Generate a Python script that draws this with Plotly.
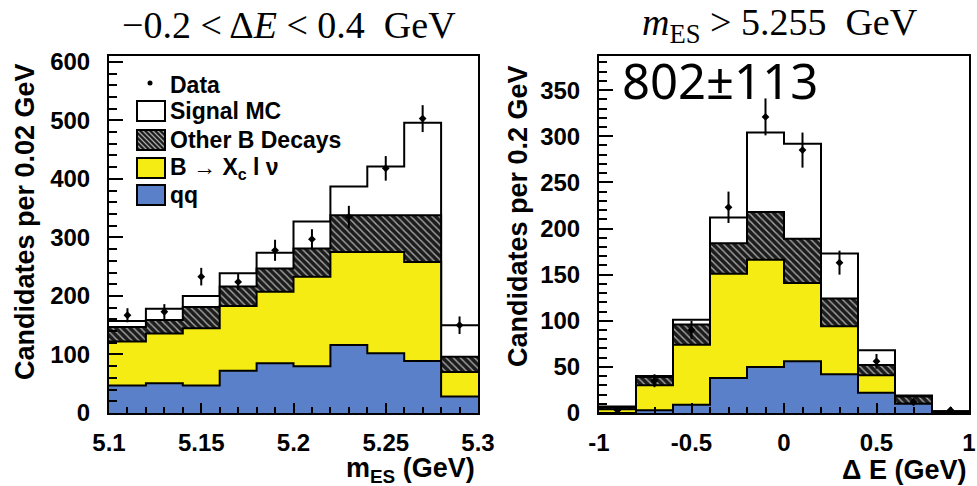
import plotly.graph_objects as go
import numpy as np

W, H = 977, 486

# ---------------- data ----------------
# left panel: m_ES bins (GeV), cumulative stacked tops
mes_edges = [5.10, 5.12, 5.14, 5.16, 5.18, 5.20, 5.22, 5.24, 5.26, 5.28, 5.30]
mes_centers = [5.11, 5.13, 5.15, 5.17, 5.19, 5.21, 5.23, 5.25, 5.27, 5.29]
mes_qq = [47, 51, 47, 72, 85, 80, 116, 102, 89, 28]
mes_xclnu = [122, 136, 145, 183, 207, 233, 275, 275, 258, 70]
mes_otherb = [147, 159, 181, 216, 247, 281, 338, 338, 338, 96]
mes_signal = [157, 178, 200, 239, 274, 327, 387, 421, 496, 150]
mes_data = [167, 173, 233, 224, 278, 297, 335, 418, 503, 150]
mes_err = [12, 13, 15, 14, 18, 17, 19, 21, 23, 15]

# right panel: Delta E bins (GeV), cumulative stacked tops
de_edges = [-1.0, -0.8, -0.6, -0.4, -0.2, 0.0, 0.2, 0.4, 0.6, 0.8, 1.0]
de_centers = [-0.9, -0.7, -0.5, -0.3, -0.1, 0.1, 0.3, 0.5, 0.7, 0.9]
de_qq = [0, 3, 9, 38, 50, 56, 42, 22, 10, 1]
de_xclnu = [4, 30, 74, 151, 166, 141, 94, 41, 10, 1]
de_otherb = [6, 39, 96, 184, 218, 189, 124, 52, 18, 2]
de_signal = [7, 40, 101, 212, 304, 292, 173, 68, 19, 2]
de_data = [3, 35, 90, 223, 321, 285, 163, 56, 12, 3]
de_err = [3, 7, 10, 17, 20, 19, 13, 8, 4, 2]

legend_labels = ["Data", "Signal MC", "Other B Decays", "B → X<sub>c</sub> l ν", "qq"]

WHITE = "#ffffff"
HATCH_BG = "#1c1c1c"
YELLOW = "#f4ec13"
BLUE = "#5a80c9"

fig = go.Figure()


def step_xy(edges, vals):
    return list(edges), list(vals) + [vals[-1]]


def add_panel(edges, centers, signal, otherb, xclnu, qq, data, err, xa, ya):
    layers = [
        (signal, WHITE, None),
        (otherb, HATCH_BG, dict(shape="\\", bgcolor=HATCH_BG, fgcolor="#a8a8a8",
                                size=5, solidity=0.28)),
        (xclnu, YELLOW, None),
        (qq, BLUE, None),
    ]
    for vals, col, pat in layers:
        x, y = step_xy(edges, vals)
        kw = dict(x=x, y=y, mode="lines", line=dict(shape="hv", color="black", width=2),
                  fill="tozeroy", fillcolor=col, xaxis=xa, yaxis=ya,
                  showlegend=False, hoverinfo="skip")
        if pat is not None:
            kw["fillpattern"] = pat
        fig.add_trace(go.Scatter(**kw))
    fig.add_trace(go.Scatter(
        x=centers, y=data, mode="markers", xaxis=xa, yaxis=ya, showlegend=False,
        marker=dict(symbol="diamond", size=6, color="black"),
        error_y=dict(type="data", array=err, thickness=2, width=0, color="black"),
    ))


add_panel(mes_edges, mes_centers, mes_signal, mes_otherb, mes_xclnu, mes_qq,
          mes_data, mes_err, "x", "y")
add_panel(de_edges, de_centers, de_signal, de_otherb, de_xclnu, de_qq,
          de_data, de_err, "x2", "y2")

TICKFONT = dict(family="Liberation Sans", size=24, color="black", weight="bold")

axis_common = dict(showline=True, mirror=True, linewidth=2, linecolor="black",
                   showgrid=False, zeroline=False, ticks="inside", tickcolor="black",
                   tickwidth=2, tickfont=TICKFONT, automargin=False)

ydom = [1 - 413 / H, 1 - 56 / H]

fig.update_layout(
    template="none",
    width=W, height=H, margin=dict(l=0, r=0, t=0, b=0, pad=0),
    paper_bgcolor="white", plot_bgcolor="white",
    xaxis=dict(domain=[109 / W, 478 / W], range=[5.1, 5.3],
               tickmode="array", tickvals=[5.1, 5.15, 5.2, 5.25, 5.3],
               ticktext=["5.1", "5.15", "5.2", "5.25", "5.3"], ticklen=10,
               ticklabelstandoff=7,
               minor=dict(tickmode="linear", tick0=5.1, dtick=0.01, ticks="inside",
                          ticklen=6, tickwidth=2, tickcolor="black", showgrid=False),
               anchor="y", **axis_common),
    yaxis=dict(domain=ydom, range=[0, 610], tickmode="linear", tick0=0, dtick=100,
               ticklen=14, ticklabelstandoff=12,
               minor=dict(tickmode="linear", tick0=0, dtick=20, ticks="inside",
                          ticklen=8, tickwidth=2, tickcolor="black", showgrid=False),
               anchor="x", **axis_common),
    xaxis2=dict(domain=[599 / W, 969 / W], range=[-1, 1],
                tickmode="array", tickvals=[-1, -0.5, 0, 0.5, 1],
                ticktext=["-1", "-0.5", "0", "0.5", "1"], ticklen=10,
                ticklabelstandoff=7,
                minor=dict(tickmode="linear", tick0=-1, dtick=0.1, ticks="inside",
                           ticklen=6, tickwidth=2, tickcolor="black", showgrid=False),
                anchor="y2", **axis_common),
    yaxis2=dict(domain=ydom, range=[0, 387], tickmode="linear", tick0=0, dtick=50,
                ticklen=14, ticklabelstandoff=12,
                minor=dict(tickmode="linear", tick0=0, dtick=10, ticks="inside",
                           ticklen=8, tickwidth=2, tickcolor="black", showgrid=False),
                anchor="x2", **axis_common),
)


def px(x):
    return x / W


def py(y):
    return 1 - y / H


ann = []
SERIF = dict(family="Liberation Serif", size=38, color="black")
ann.append(dict(x=px(289), y=py(25), text="−0.2 &lt; Δ<i>E</i> &lt; 0.4\u2002GeV",
                font=SERIF))
ann.append(dict(x=px(780), y=py(25), text="<i>m</i><sub>ES</sub> &gt; 5.255\u2002GeV",
                font=SERIF))
ann.append(dict(x=px(720), y=py(80), text="802±113",
                font=dict(family="Noto Sans", size=49, color="black")))
AXT = dict(family="Liberation Sans", size=27, color="black", weight="bold")
ann.append(dict(x=px(25), y=py(222), text="Candidates per 0.02 GeV", textangle=-90, font=AXT))
ann.append(dict(x=px(518), y=py(216), text="Candidates per 0.2 GeV", textangle=-90, font=AXT))
ann.append(dict(x=px(477), y=py(470), xanchor="right", text="m<sub>ES</sub> (GeV)", font=AXT))
ann.append(dict(x=px(968), y=py(470), xanchor="right", text="Δ E (GeV)", font=AXT))

LEGF = dict(family="Liberation Sans", size=23, color="black", weight="bold")
rows_y = [85, 111, 140, 168, 195]
for lab, yy in zip(legend_labels, rows_y):
    ann.append(dict(x=px(168), y=py(yy), xanchor="left", text=lab, font=LEGF))

for a in ann:
    a.setdefault("xref", "paper")
    a.setdefault("yref", "paper")
    a.setdefault("showarrow", False)
    a.setdefault("xanchor", "center")
    a.setdefault("yanchor", "middle")
fig.update_layout(annotations=ann)

# legend swatches (decoration)
shapes = []
shapes.append(dict(type="circle", xref="paper", yref="paper",
                   x0=px(147.5), x1=px(152.5), y0=py(80.5), y1=py(85.5),
                   fillcolor="black", line=dict(width=0)))
box_x0, box_x1 = 137, 165
boxes = [(101, 121, WHITE), (130, 150, HATCH_BG), (158, 178, YELLOW), (185, 205, BLUE)]
for (y0, y1, col) in boxes:
    shapes.append(dict(type="rect", xref="paper", yref="paper",
                       x0=px(box_x0), x1=px(box_x1), y0=py(y0), y1=py(y1),
                       fillcolor=col, line=dict(color="black", width=2)))
# hatch lines inside the "Other B Decays" swatch
hy0, hy1 = 130, 150
for off in np.arange(-20, 28, 5):
    xa0, ya0 = box_x0 + off, hy0
    xa1, ya1 = box_x0 + off + (hy1 - hy0), hy1
    if xa0 < box_x0:
        ya0 += box_x0 - xa0
        xa0 = box_x0
    if xa1 > box_x1:
        ya1 -= xa1 - box_x1
        xa1 = box_x1
    if xa1 - xa0 < 1:
        continue
    shapes.append(dict(type="line", xref="paper", yref="paper",
                       x0=px(xa0), x1=px(xa1), y0=py(ya0), y1=py(ya1),
                       line=dict(color="#a8a8a8", width=1.2)))
shapes.append(dict(type="rect", xref="paper", yref="paper",
                   x0=px(box_x0), x1=px(box_x1), y0=py(hy0), y1=py(hy1),
                   line=dict(color="black", width=2)))
fig.update_layout(shapes=shapes)

fig.write_html("out.html")
